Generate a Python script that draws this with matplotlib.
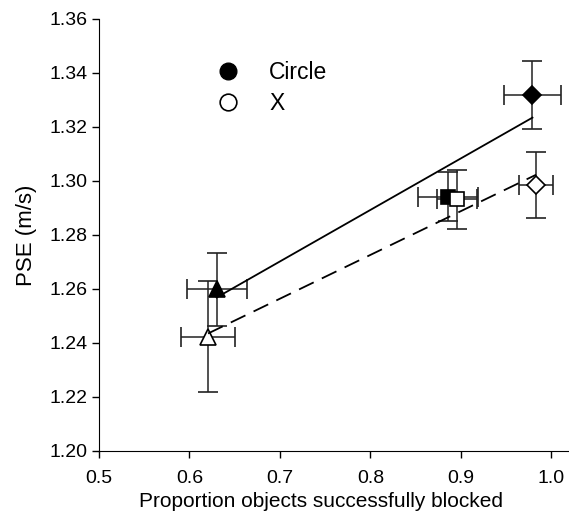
import numpy as np
import matplotlib.pyplot as plt
from matplotlib.lines import Line2D

plt.rcParams["font.family"] = ["Liberation Sans", "DejaVu Sans"]

# proportion blocked (x) and PSE (y) with their error bars, per condition
circle_x = [0.630, 0.886, 0.979]
circle_y = [1.2599, 1.2942, 1.3319]
circle_xerr = [0.033, 0.033, 0.031]
circle_yerr = [0.0135, 0.0092, 0.0125]

cross_x = [0.6205, 0.896, 0.983]
cross_y = [1.2423, 1.2932, 1.2985]
cross_xerr = [0.030, 0.022, 0.0185]
cross_yerr = [0.0205, 0.011, 0.0122]

markers = ["^", "s", "D"]
marker_sizes = [11, 10, 9.5]

fig = plt.figure(figsize=(5.69, 5.13), dpi=100)
ax = fig.add_axes([0.174, 0.121, 0.827, 0.842])

for xs, ys, xe, ye, face in [
    (circle_x, circle_y, circle_xerr, circle_yerr, "black"),
    (cross_x, cross_y, cross_xerr, cross_yerr, "white"),
]:
    for i in range(3):
        ax.errorbar(
            xs[i], ys[i], xerr=xe[i], yerr=ye[i],
            fmt=markers[i], ms=marker_sizes[i], mfc=face, mec="black",
            mew=1.2, ecolor="#222222", elinewidth=1.1, capsize=7.5,
            capthick=1.1, zorder=3,
        )

# regression lines
for xs, ys, ls in [(circle_x, circle_y, "-"), (cross_x, cross_y, (0, (9, 5)))]:
    k, b = np.polyfit(xs, ys, 1)
    lx = np.array([min(xs), max(xs)])
    ax.plot(lx, k * lx + b, color="black", lw=1.3, ls=ls, zorder=4)

handles = [
    Line2D([], [], ls="none", marker="o", ms=12, mfc="black", mec="black"),
    Line2D([], [], ls="none", marker="o", ms=12, mfc="white", mec="black", mew=1.2),
]
ax.legend(handles, ["Circle", "X"], loc="upper left",
          bbox_to_anchor=(0.194, 0.95), frameon=False, fontsize=16.5,
          handletextpad=1.05, labelspacing=0.35, handlelength=1.5)

ax.set_xlim(0.5, 1.02)
ax.set_ylim(1.20, 1.36)
ax.set_xticks([0.5, 0.6, 0.7, 0.8, 0.9, 1.0])
ax.set_yticks(np.arange(1.20, 1.361, 0.02))
ax.xaxis.set_major_formatter(plt.FormatStrFormatter("%.1f"))
ax.yaxis.set_major_formatter(plt.FormatStrFormatter("%.2f"))
ax.spines["top"].set_visible(False)
ax.spines["right"].set_visible(False)
ax.tick_params(labelsize=14, length=5, width=1, direction="out")
ax.tick_params(axis="x", pad=9)
ax.set_xlabel("Proportion objects successfully blocked", fontsize=15)
ax.xaxis.set_label_coords(0.472, -0.095)
ax.set_ylabel("PSE (m/s)", fontsize=16, labelpad=9)

plt.savefig("out.png", dpi=100)
